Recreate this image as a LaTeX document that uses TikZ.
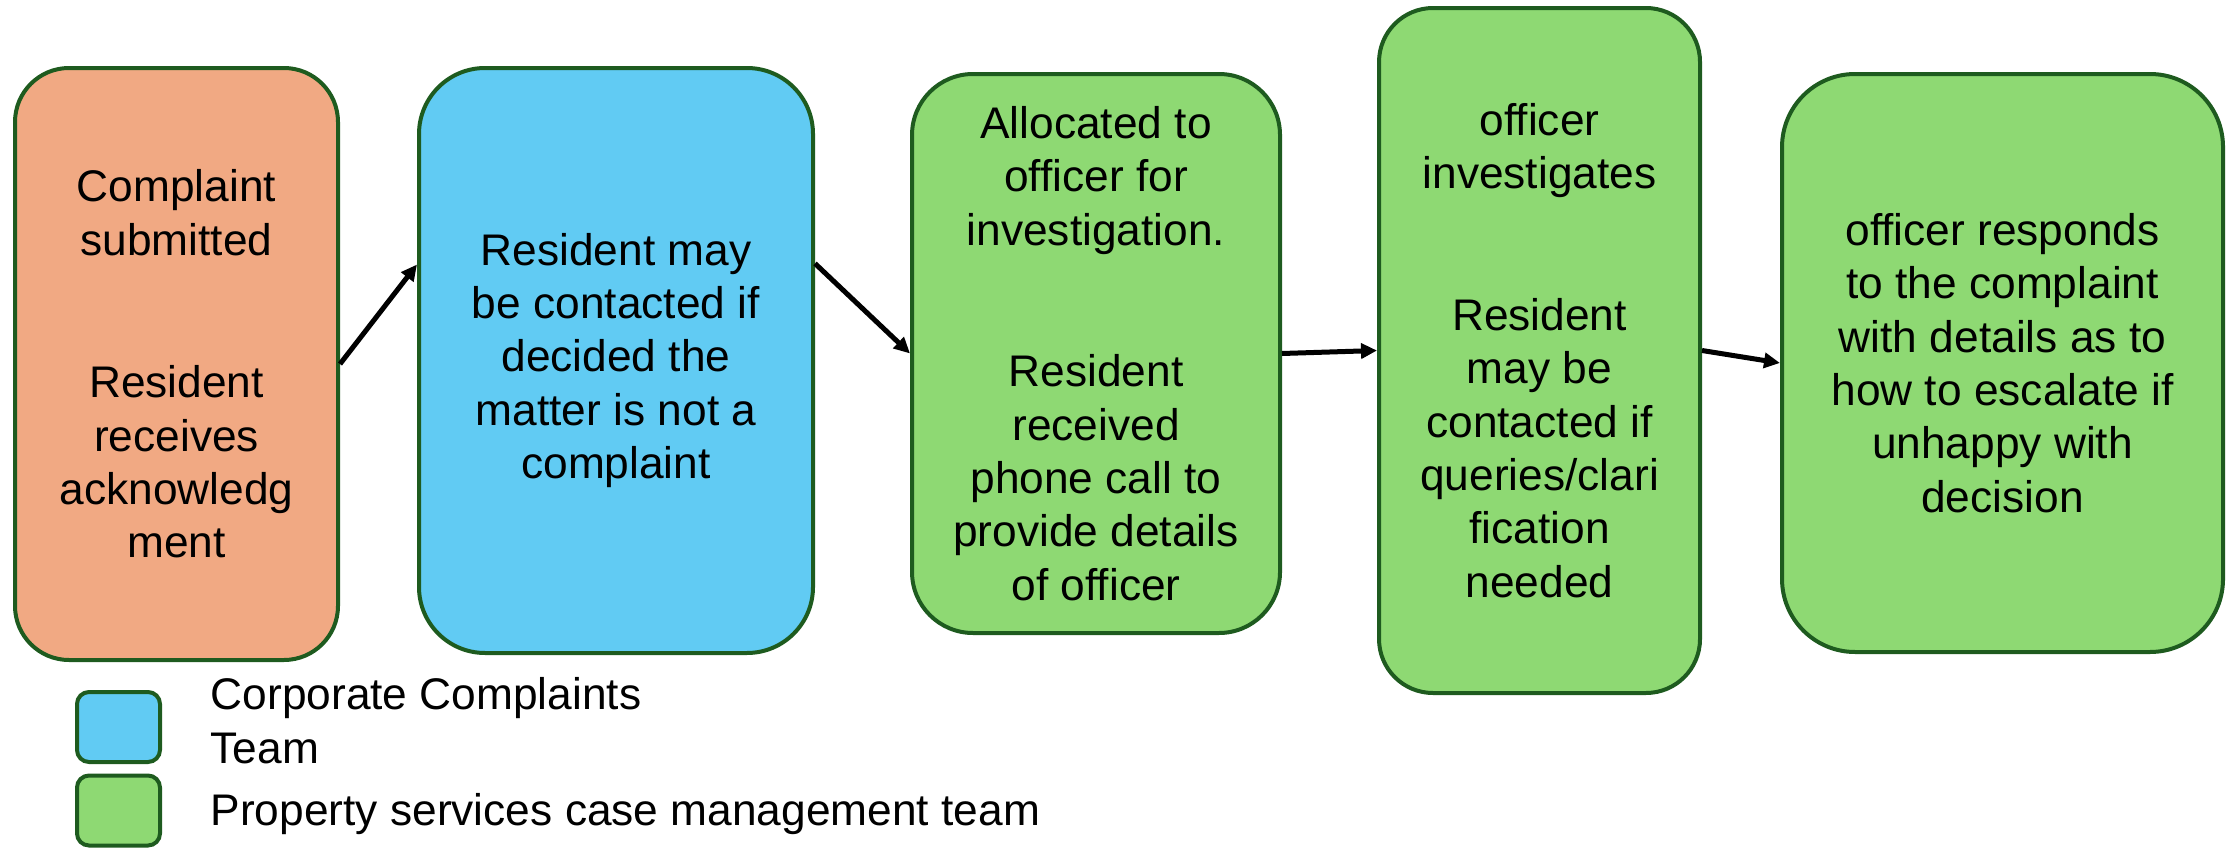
\documentclass[tikz,border=0pt]{standalone}
\usepackage{fontspec}
\setmainfont{Liberation Sans}
\usepackage{tikz}
\usetikzlibrary{arrows.meta}

\definecolor{orangefill}{HTML}{F1A983}
\definecolor{bluefill}{HTML}{61CBF3}
\definecolor{greenfill}{HTML}{8ED973}
\definecolor{boxline}{HTML}{1E5B1F}

\newcommand{\stagefont}{\fontsize{12.6pt}{15.2pt}\selectfont}

\tikzset{
stage/.style={draw=boxline,line width=0.4mm,align=center,inner sep=0pt,font=\stagefont},
key/.style={draw=boxline,line width=0.4mm,minimum width=8.3mm,minimum height=7mm,rounded corners=1.2mm},
keytext/.style={anchor=base west,inner sep=0pt,align=left,font=\stagefont},
flow/.style={-{Triangle[length=1.6mm,width=1.5mm]},line width=0.5mm}
}

\begin{document}
\begin{tikzpicture}[x=0.1mm,y=-0.1mm]
\useasboundingbox (0,0) rectangle (2236,848);

\node[stage,fill=orangefill,minimum width=32.3mm,minimum height=59.2mm,rounded corners=5.4mm] (submitted) at (176.5,364) {Complaint\\submitted\\[8.9mm]Resident\\receives\\acknowledg\\ment};
\node[stage,fill=bluefill,minimum width=39.4mm,minimum height=58.5mm,rounded corners=6.6mm] (contact) at (616,360.5) {Resident may\\be contacted if\\decided the\\matter is not a\\complaint};
\node[stage,fill=greenfill,minimum width=36.8mm,minimum height=55.9mm,rounded corners=6.1mm] (allocated) at (1096,353.5) {Allocated to\\officer for\\investigation.\\[8.8mm]Resident\\received\\phone call to\\provide details\\of officer};
\node[stage,fill=greenfill,minimum width=32.1mm,minimum height=68.5mm,rounded corners=5.4mm] (investigates) at (1539.5,350.5) {officer\\investigates\\[8.8mm]Resident\\may be\\contacted if\\queries/clari\\fication\\needed};
\node[stage,fill=greenfill,minimum width=44.1mm,minimum height=57.8mm,rounded corners=7.3mm] (responds) at (2002.5,363) {officer responds\\to the complaint\\with details as to\\how to escalate if\\unhappy with\\decision};

\draw[flow] (submitted.east) -- ([yshift=9.6mm]contact.west);
\draw[flow] ([yshift=9.7mm]contact.east) -- (allocated.west);
\draw[flow] (allocated.east) -- (investigates.west);
\draw[flow] (investigates.east) -- (responds.west);

\node[key,fill=bluefill] (keyblue) at (118.5,727) {};
\node[key,fill=greenfill] (keygreen) at (118.5,810.5) {};
\node[keytext] (keybluetext) at (210,763) {Corporate Complaints\\Team};
\node[keytext] (keygreentext) at (210,825) {Property services case management team};

\end{tikzpicture}
\end{document}
